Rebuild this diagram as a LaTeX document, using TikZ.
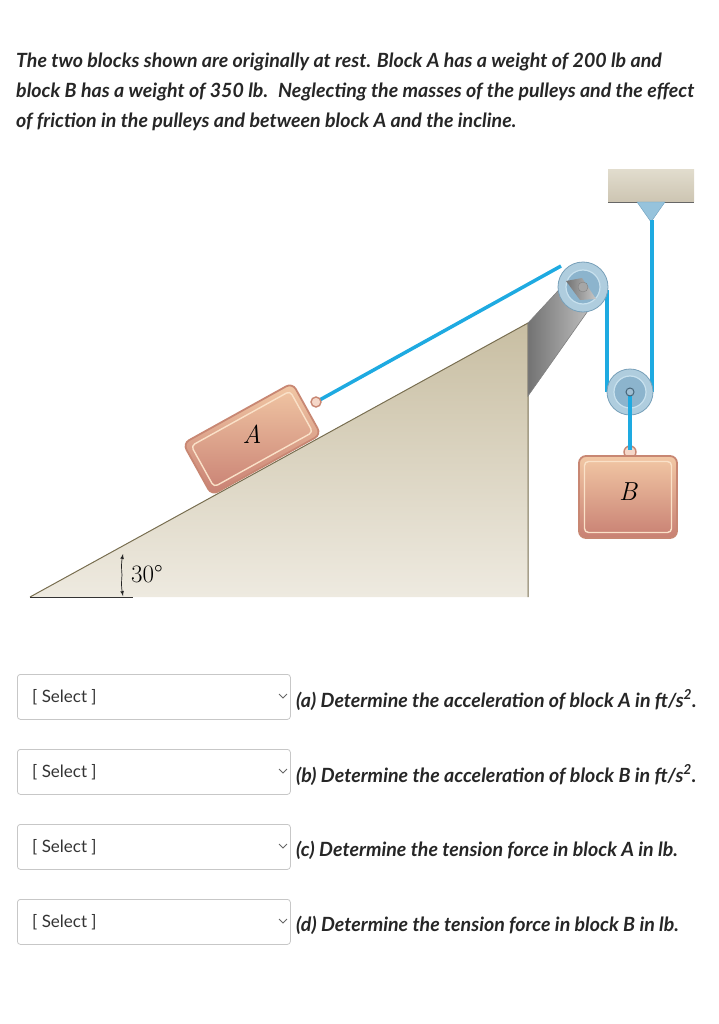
\documentclass[tikz,border=0pt]{standalone}
\usepackage{fontspec}
\setmainfont{Lato}
\newfontfamily\lmr{Latin Modern Roman}
\definecolor{ropec}{RGB}{30,170,225}
\definecolor{blkedge}{RGB}{200,135,115}
\definecolor{blktop}{RGB}{242,200,165}
\definecolor{blkbot}{RGB}{200,128,115}
\definecolor{blkline}{RGB}{250,225,200}
\definecolor{puloutf}{RGB}{175,205,222}
\definecolor{puloutd}{RGB}{120,160,185}
\definecolor{pulinf}{RGB}{140,180,205}
\definecolor{pulind}{RGB}{200,225,238}
\definecolor{inctop}{RGB}{200,190,162}
\definecolor{incbot}{RGB}{238,234,224}
\definecolor{incedge}{RGB}{120,110,80}
\definecolor{ceiltop}{RGB}{225,220,205}
\definecolor{ceilbot}{RGB}{205,197,178}
\definecolor{trif}{RGB}{150,195,220}
\definecolor{trid}{RGB}{110,160,190}
\definecolor{hubd}{RGB}{70,100,120}
\definecolor{hubf}{RGB}{160,190,210}
\definecolor{hookf}{RGB}{245,215,200}
\begin{document}
\begin{tikzpicture}[x=1pt,y=-1pt,
  qtext/.style={anchor=west,font=\fontsize{19.6}{22}\selectfont\bfseries\itshape,text=black!85,inner sep=0},
  selbox/.style={draw=black!22,line width=0.8pt,rounded corners=3pt,minimum width=273pt,minimum height=45pt,anchor=north west,inner sep=0},
  seltext/.style={anchor=west,font=\fontsize{17}{20}\selectfont,text=black!80,inner sep=0},
  rope/.style={draw=ropec,line width=3.5pt},
  blk/.style={draw=blkedge,line width=1.8pt,rounded corners=7pt,top color=blktop,bottom color=blkbot},
  blkin/.style={draw=blkline,line width=1.4pt,rounded corners=4pt},
  pulout/.style={fill=puloutf,draw=puloutd,line width=0.8pt},
  pulin/.style={fill=pulinf,draw=pulind,line width=1.2pt},
  hook/.style={draw=blkedge,fill=hookf,line width=1.4pt}]
\useasboundingbox (0,0) rectangle (719,1024);
% header text
\node[qtext] (h1) at (16,62) {The two blocks shown are originally at rest. Block A has a weight of 200 lb and};
\node[qtext] (h2) at (16,92) {block B has a weight of 350 lb. \ Neglecting the masses of the pulleys and the effect};
\node[qtext] (h3) at (16,122) {of friction in the pulleys and between block A and the incline.};
% incline
\shade[top color=inctop,bottom color=incbot] (30,597) -- (528,323) -- (528,597) -- cycle;
\draw[incedge,line width=1pt] (30,597) -- (528,323) -- (528,597);
\draw[black!80,line width=1pt] (30,597) -- (133,597);
\draw[black!85,line width=0.7pt,-latex] (122,575) to[bend left=8] (123,554);
\draw[black!85,line width=0.7pt,-latex] (122,575) to[bend right=8] (123,596);
\node[font=\lmr\fontsize{25}{28}\selectfont,anchor=west,inner sep=0] (ang) at (131,574) {30°};
% gray arm
\shade[left color=black!55,right color=black!22,draw=black!50,line width=0.6pt] (528,323) -- (569,279) -- (597,298) -- (528,396) -- cycle;
% ceiling
\shade[top color=ceiltop,bottom color=ceilbot] (608,170) rectangle (694,202);
\draw[black!60,line width=0.8pt] (608,202) -- (694,202);
\fill[trif,draw=trid] (637,202) -- (665,202) -- (651,222) -- cycle;
\coordinate (top) at (652,220);
% pulleys
\coordinate (p1) at (583,287);
\coordinate (p2) at (630,392);
% ropes
\path[rope] (316,402) -- (561,266);
\path[rope] (607,290) -- (607,392);
\path[rope] (top) -- (652,392);
\draw[pulout] (p1) circle (25);
\draw[pulin] (p1) circle (17);
\shade[left color=black!55,right color=black!22] (566,281) -- (582,278) -- (596,299) -- (580,300) -- cycle;
\draw[black!50,fill=black!35] (p1) circle (5);
\draw[pulout] (p2) circle (23);
\draw[pulin] (p2) circle (16);
\draw[hook] (630,452) circle (6);
\path[rope] (p2) -- (630,450);
\draw[hubd,fill=hubf,line width=1pt] (p2) circle (4);
\draw[hook] (316,402) circle (5);
% blocks
\node[blk,minimum width=125pt,minimum height=59pt,rotate=29] (A) at (252,439) {};
\node[blkin,minimum width=113pt,minimum height=47pt,rotate=29] (Ai) at (252,439) {};
\node[font=\lmr\itshape\fontsize{26}{28}\selectfont] (Al) at (252,434) {A};
\node[blk,minimum width=98pt,minimum height=82pt] (B) at (628,497) {};
\node[blkin,minimum width=87pt,minimum height=71pt] (Bi) at (628,497) {};
\node[font=\lmr\itshape\fontsize{26}{28}\selectfont] (Bl) at (628,492) {B};
% selects
\foreach \y/\q [count=\i] in {674/{(a) Determine the acceleration of block A in ft/s\textsuperscript{2}.},749/{(b) Determine the acceleration of block B in ft/s\textsuperscript{2}.},824/{(c) Determine the tension force in block A in lb.},899/{(d) Determine the tension force in block B in lb.}}{
  \node[selbox] (s\i) at (17,\y) {};
  \node[seltext] (t\i) at (32,\y+23) {[ Select ]};
  \draw[black!60,line width=0.8pt] (279,\y+20) -- (283,\y+24) -- (287,\y+20);
  \node[qtext] (q\i) at (296,\y+26) {\q};
}
\end{tikzpicture}
\end{document}
